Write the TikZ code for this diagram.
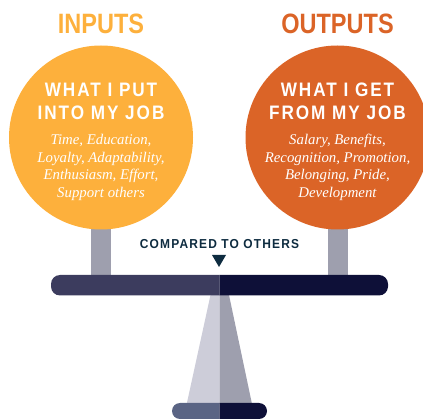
\documentclass[tikz,border=0pt]{standalone}
\usepackage{fontspec}
\setmainfont{Liberation Serif}
\newfontfamily\titlefont[FakeStretch=0.84]{Liberation Sans Bold}
\newfontfamily\headfont[LetterSpace=10,FakeStretch=0.88]{Liberation Sans Bold}
\newfontfamily\labelfont[LetterSpace=9,FakeStretch=0.92]{Liberation Sans Bold}
\definecolor{inorange}{HTML}{FDB03C}
\definecolor{outorange}{HTML}{DB6427}
\definecolor{postgrey}{HTML}{9E9FAE}
\definecolor{lightgrey}{HTML}{CDCDD9}
\definecolor{beamleft}{HTML}{3C3C5E}
\definecolor{beamright}{HTML}{0E1038}
\definecolor{baseleft}{HTML}{5A6484}
\definecolor{labeldark}{HTML}{0E2C40}
\tikzset{
  titletext/.style={font=\titlefont\fontsize{28}{28}\selectfont,anchor=center,inner sep=0pt},
  headtext/.style={font=\headfont\fontsize{19.5}{23}\selectfont,align=center,text=white,inner sep=0pt,anchor=center},
  bodytext/.style={font=\itshape\fontsize{14.8}{17.7}\selectfont,align=center,text=white,inner sep=0pt,anchor=center},
}
\begin{document}
\begin{tikzpicture}[x=1pt,y=-1pt]
\useasboundingbox (0,0) rectangle (423,419);
\clip (0,0) rectangle (423,419);
% posts
\fill[postgrey] (91,220) rectangle (111,276);
\fill[postgrey] (328,220) rectangle (348,276);
% circles
\fill[inorange] (101,137.5) circle[radius=92];
\fill[outorange] (337.5,137.5) circle[radius=92];
% stand
\fill[lightgrey] (210.5,295) -- (219.7,295) -- (219.7,404) -- (186.7,404) -- cycle;
\fill[postgrey] (219.7,295) -- (229,295) -- (252,404) -- (219.7,404) -- cycle;
% beam
\begin{scope}
\clip (51,275) rectangle (219.7,295.5);
\fill[beamleft,rounded corners=9pt] (51,275) rectangle (300,295.5);
\end{scope}
\begin{scope}
\clip (219.7,275) rectangle (388,295.5);
\fill[beamright,rounded corners=9pt] (150,275) rectangle (388,295.5);
\end{scope}
% base
\begin{scope}
\clip (172,403) rectangle (219.7,419);
\fill[baseleft,rounded corners=8pt] (172,403) rectangle (260,419);
\end{scope}
\begin{scope}
\clip (219.7,403) rectangle (267,419);
\fill[beamright,rounded corners=8pt] (180,403) rectangle (267,419);
\end{scope}
% pointer
\fill[labeldark] (212,255) -- (226,255) -- (219,267) -- cycle;
% texts
\node[titletext,text=inorange] (inputs) at (101,24) {INPUTS};
\node[titletext,text=outorange] (outputs) at (337.5,24) {OUTPUTS};
\node[headtext] (inhead) at (101,101.5) {WHAT I PUT\\INTO MY JOB};
\node[headtext] (outhead) at (337.5,101.5) {WHAT I GET\\FROM MY JOB};
\node[bodytext] (inbody) at (101,167.5) {Time, Education,\\Loyalty, Adaptability,\\Enthusiasm, Effort,\\Support others};
\node[bodytext] (outbody) at (337.5,167.5) {Salary, Benefits,\\Recognition, Promotion,\\Belonging, Pride,\\Development};
\node[font=\labelfont\fontsize{13}{13}\selectfont,text=labeldark,inner sep=0pt] (compared) at (219.5,244) {COMPARED TO OTHERS};
\end{tikzpicture}
\end{document}
